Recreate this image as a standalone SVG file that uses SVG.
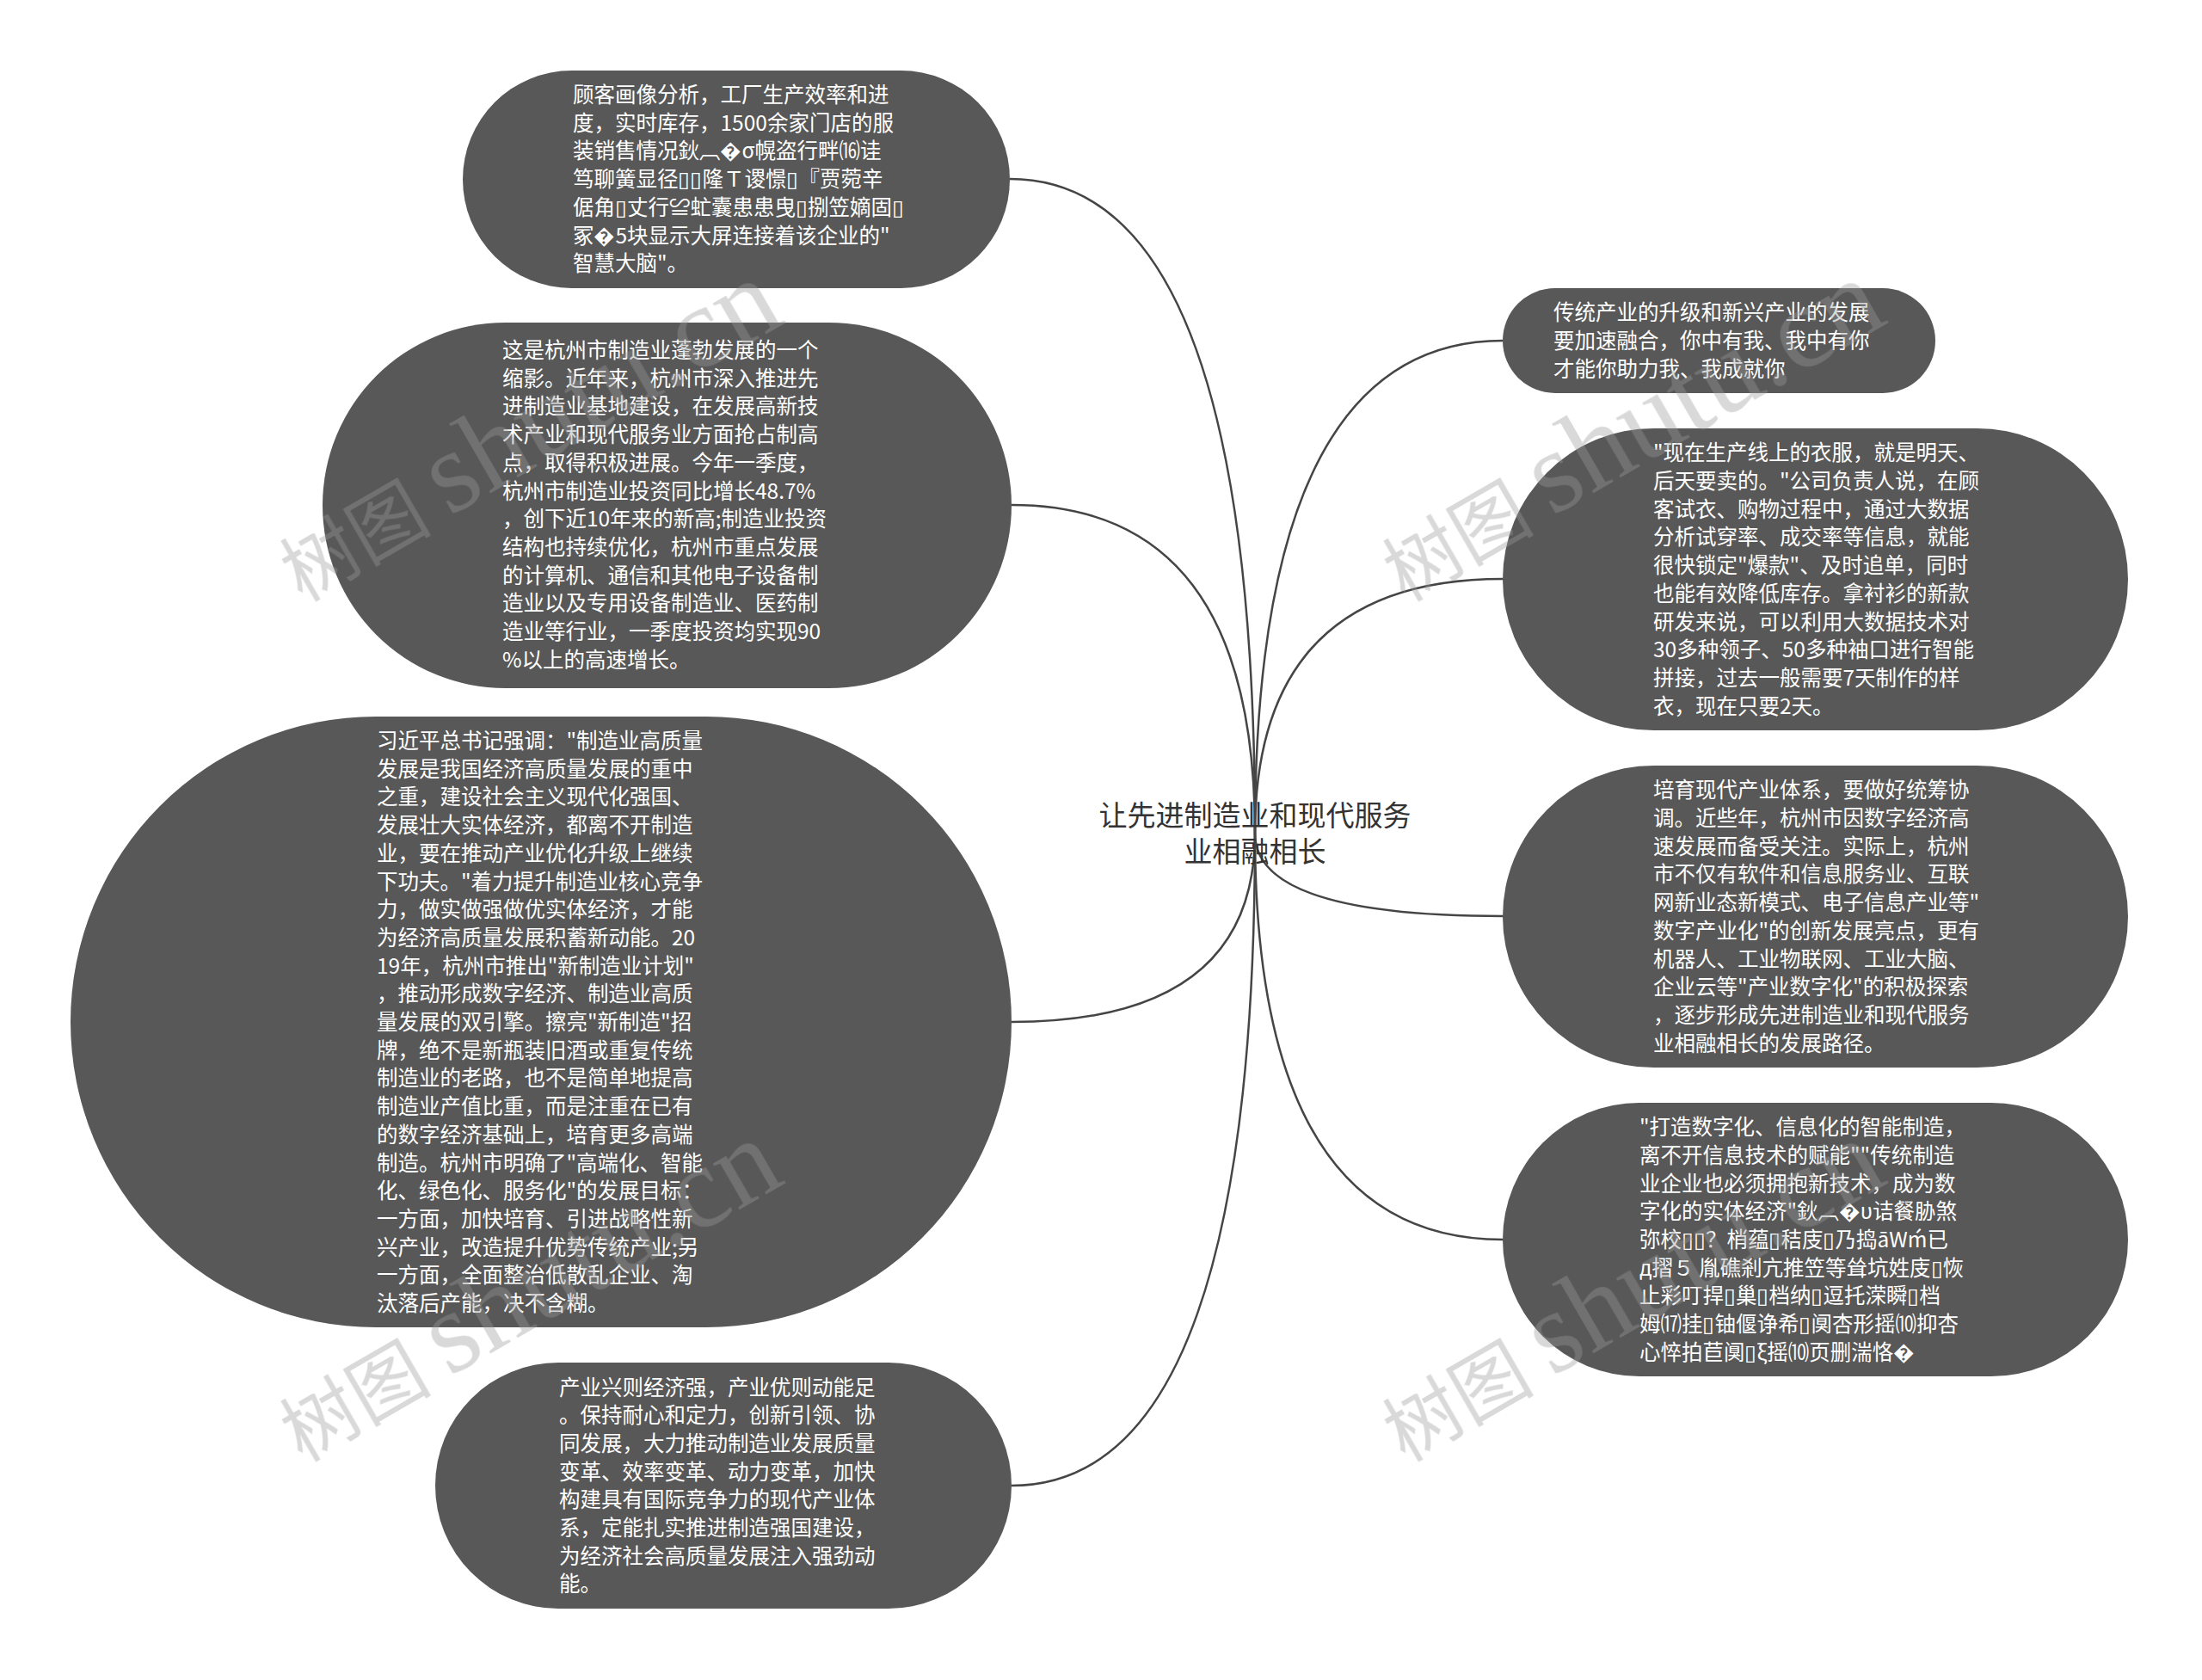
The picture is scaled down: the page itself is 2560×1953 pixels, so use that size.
<svg xmlns="http://www.w3.org/2000/svg" width="2560" height="1953" viewBox="0 0 2560 1953">
<style>
.bg{fill:#ffffff}
.node rect{fill:#585858}
.nt{font-family:'Noto Sans CJK SC','Liberation Sans',sans-serif;font-size:24.5px;fill:#ffffff}
.root{font-family:'Noto Sans CJK SC','Liberation Sans',sans-serif;font-size:33px;fill:#333333;text-anchor:middle}
.conn path{fill:none;stroke:#454545;stroke-width:2.5}
.wm{font-family:'Liberation Serif','Noto Sans CJK SC',serif;fill:#9a9a9a;opacity:0.38}
</style>
<rect class="bg" x="0" y="0" width="2560" height="1953"/>
<g id="connectors" class="conn">
<path d="M1459 969 Q1459 208 1174 208"/>
<path d="M1459 969 Q1459 587 1176 587"/>
<path d="M1459 969 Q1459 1188 1176 1188"/>
<path d="M1459 969 Q1459 1727 1176 1727"/>
<path d="M1459 969 Q1459 396 1747 396"/>
<path d="M1459 969 Q1459 673 1747 673"/>
<path d="M1459 969 Q1459 1065 1747 1065"/>
<path d="M1459 969 Q1459 1441 1747 1441"/>
</g>
<g id="root">
<text class="root" x="1459" y="960">让先进制造业和现代服务</text>
<text class="root" x="1459" y="1002">业相融相长</text>
</g>
<g id="node-l1" class="node">
<rect x="538" y="82" width="636" height="253" rx="126.5" ry="126.5"/>
<text class="nt" x="666" y="119"><tspan x="666">顾客画像分析，工厂生产效率和进</tspan><tspan x="666" dy="32.7">度，实时库存，1500余家门店的服</tspan><tspan x="666" dy="32.7">装销售情况鈥︹�σ幌盗行畔⒃诖</tspan><tspan x="666" dy="32.7">笃聊簧显径▯▯隆Ｔ谡憬▯『贾菀辛</tspan><tspan x="666" dy="32.7">倨角▯丈行≌虻囊患患曳▯捌笠嫡固▯</tspan><tspan x="666" dy="32.7">冢�5块显示大屏连接着该企业的"</tspan><tspan x="666" dy="32.7">智慧大脑"。</tspan></text>
</g>
<g id="node-l2" class="node">
<rect x="375" y="375" width="801" height="425" rx="212.5" ry="212.5"/>
<text class="nt" x="584" y="416"><tspan x="584">这是杭州市制造业蓬勃发展的一个</tspan><tspan x="584" dy="32.7">缩影。近年来，杭州市深入推进先</tspan><tspan x="584" dy="32.7">进制造业基地建设，在发展高新技</tspan><tspan x="584" dy="32.7">术产业和现代服务业方面抢占制高</tspan><tspan x="584" dy="32.7">点，取得积极进展。今年一季度，</tspan><tspan x="584" dy="32.7">杭州市制造业投资同比增长48.7%</tspan><tspan x="584" dy="32.7">，创下近10年来的新高;制造业投资</tspan><tspan x="584" dy="32.7">结构也持续优化，杭州市重点发展</tspan><tspan x="584" dy="32.7">的计算机、通信和其他电子设备制</tspan><tspan x="584" dy="32.7">造业以及专用设备制造业、医药制</tspan><tspan x="584" dy="32.7">造业等行业，一季度投资均实现90</tspan><tspan x="584" dy="32.7">%以上的高速增长。</tspan></text>
</g>
<g id="node-l3" class="node">
<rect x="82" y="833" width="1094" height="710" rx="355" ry="355"/>
<text class="nt" x="438" y="870"><tspan x="438">习近平总书记强调："制造业高质量</tspan><tspan x="438" dy="32.7">发展是我国经济高质量发展的重中</tspan><tspan x="438" dy="32.7">之重，建设社会主义现代化强国、</tspan><tspan x="438" dy="32.7">发展壮大实体经济，都离不开制造</tspan><tspan x="438" dy="32.7">业，要在推动产业优化升级上继续</tspan><tspan x="438" dy="32.7">下功夫。"着力提升制造业核心竞争</tspan><tspan x="438" dy="32.7">力，做实做强做优实体经济，才能</tspan><tspan x="438" dy="32.7">为经济高质量发展积蓄新动能。20</tspan><tspan x="438" dy="32.7">19年，杭州市推出"新制造业计划"</tspan><tspan x="438" dy="32.7">，推动形成数字经济、制造业高质</tspan><tspan x="438" dy="32.7">量发展的双引擎。擦亮"新制造"招</tspan><tspan x="438" dy="32.7">牌，绝不是新瓶装旧酒或重复传统</tspan><tspan x="438" dy="32.7">制造业的老路，也不是简单地提高</tspan><tspan x="438" dy="32.7">制造业产值比重，而是注重在已有</tspan><tspan x="438" dy="32.7">的数字经济基础上，培育更多高端</tspan><tspan x="438" dy="32.7">制造。杭州市明确了"高端化、智能</tspan><tspan x="438" dy="32.7">化、绿色化、服务化"的发展目标：</tspan><tspan x="438" dy="32.7">一方面，加快培育、引进战略性新</tspan><tspan x="438" dy="32.7">兴产业，改造提升优势传统产业;另</tspan><tspan x="438" dy="32.7">一方面，全面整治低散乱企业、淘</tspan><tspan x="438" dy="32.7">汰落后产能，决不含糊。</tspan></text>
</g>
<g id="node-l4" class="node">
<rect x="506" y="1584" width="670" height="286" rx="143" ry="143"/>
<text class="nt" x="650" y="1621.5"><tspan x="650">产业兴则经济强，产业优则动能足</tspan><tspan x="650" dy="32.7">。保持耐心和定力，创新引领、协</tspan><tspan x="650" dy="32.7">同发展，大力推动制造业发展质量</tspan><tspan x="650" dy="32.7">变革、效率变革、动力变革，加快</tspan><tspan x="650" dy="32.7">构建具有国际竞争力的现代产业体</tspan><tspan x="650" dy="32.7">系，定能扎实推进制造强国建设，</tspan><tspan x="650" dy="32.7">为经济社会高质量发展注入强劲动</tspan><tspan x="650" dy="32.7">能。</tspan></text>
</g>
<g id="node-r1" class="node">
<rect x="1747" y="335" width="503" height="122" rx="61" ry="61"/>
<text class="nt" x="1806" y="372.3"><tspan x="1806">传统产业的升级和新兴产业的发展</tspan><tspan x="1806" dy="32.7">要加速融合，你中有我、我中有你</tspan><tspan x="1806" dy="32.7">才能你助力我、我成就你</tspan></text>
</g>
<g id="node-r2" class="node">
<rect x="1747" y="498" width="727" height="351" rx="175.5" ry="175.5"/>
<text class="nt" x="1922" y="535.3"><tspan x="1922">"现在生产线上的衣服，就是明天、</tspan><tspan x="1922" dy="32.7">后天要卖的。"公司负责人说，在顾</tspan><tspan x="1922" dy="32.7">客试衣、购物过程中，通过大数据</tspan><tspan x="1922" dy="32.7">分析试穿率、成交率等信息，就能</tspan><tspan x="1922" dy="32.7">很快锁定"爆款"、及时追单，同时</tspan><tspan x="1922" dy="32.7">也能有效降低库存。拿衬衫的新款</tspan><tspan x="1922" dy="32.7">研发来说，可以利用大数据技术对</tspan><tspan x="1922" dy="32.7">30多种领子、50多种袖口进行智能</tspan><tspan x="1922" dy="32.7">拼接，过去一般需要7天制作的样</tspan><tspan x="1922" dy="32.7">衣，现在只要2天。</tspan></text>
</g>
<g id="node-r3" class="node">
<rect x="1747" y="890" width="727" height="351" rx="175.5" ry="175.5"/>
<text class="nt" x="1922" y="927.3"><tspan x="1922">培育现代产业体系，要做好统筹协</tspan><tspan x="1922" dy="32.7">调。近些年，杭州市因数字经济高</tspan><tspan x="1922" dy="32.7">速发展而备受关注。实际上，杭州</tspan><tspan x="1922" dy="32.7">市不仅有软件和信息服务业、互联</tspan><tspan x="1922" dy="32.7">网新业态新模式、电子信息产业等"</tspan><tspan x="1922" dy="32.7">数字产业化"的创新发展亮点，更有</tspan><tspan x="1922" dy="32.7">机器人、工业物联网、工业大脑、</tspan><tspan x="1922" dy="32.7">企业云等"产业数字化"的积极探索</tspan><tspan x="1922" dy="32.7">，逐步形成先进制造业和现代服务</tspan><tspan x="1922" dy="32.7">业相融相长的发展路径。</tspan></text>
</g>
<g id="node-r4" class="node">
<rect x="1747" y="1282" width="727" height="318" rx="159" ry="159"/>
<text class="nt" x="1906" y="1319.2"><tspan x="1906">"打造数字化、信息化的智能制造，</tspan><tspan x="1906" dy="32.7">离不开信息技术的赋能""传统制造</tspan><tspan x="1906" dy="32.7">业企业也必须拥抱新技术，成为数</tspan><tspan x="1906" dy="32.7">字化的实体经济"鈥︹�υ诘餐胁煞</tspan><tspan x="1906" dy="32.7">弥校▯▯？梢蕴▯秸庋▯乃捣āWḿ已</tspan><tspan x="1906" dy="32.7">д摺５ 胤礁剎亢推笠等耸坑姓庋▯恢</tspan><tspan x="1906" dy="32.7">止彩叮捍▯巢▯档纳▯逗托溁瞬▯档</tspan><tspan x="1906" dy="32.7">姆⒄挂▯铀偃诤希▯阒杏形摇⑽抑杏</tspan><tspan x="1906" dy="32.7">心悴拍苣阒▯ξ摇⑽页删湍恪�</tspan></text>
</g>
<g id="watermarks" class="wm">
<text transform="translate(351 700) rotate(-30)"><tspan font-size="88">树图</tspan><tspan font-size="135" dx="22">shutu.cn</tspan></text>
<text transform="translate(1633 700) rotate(-30)"><tspan font-size="88">树图</tspan><tspan font-size="135" dx="22">shutu.cn</tspan></text>
<text transform="translate(351 1700) rotate(-30)"><tspan font-size="88">树图</tspan><tspan font-size="135" dx="22">shutu.cn</tspan></text>
<text transform="translate(1633 1700) rotate(-30)"><tspan font-size="88">树图</tspan><tspan font-size="135" dx="22">shutu.cn</tspan></text>
</g>
</svg>
